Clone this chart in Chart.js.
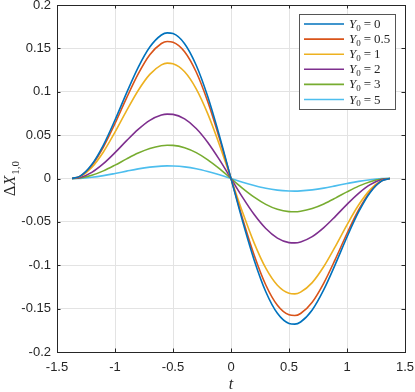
<!DOCTYPE html>
<html>
<head>
<meta charset="utf-8">
<script src="https://cdn.jsdelivr.net/npm/chart.js@4.4.0/dist/chart.umd.min.js"></script>
<style>
    html, body { margin: 0; padding: 0; background: #fff; }
</style>
</head>
<body>
<canvas id="deltaChart" width="415" height="392"></canvas>
<script>
// time samples (t)
const tValues = [-1.37, -1.3, -1.2, -1.1, -1.0, -0.9, -0.8, -0.7, -0.6, -0.55, -0.5, -0.4, -0.3, -0.2, -0.1,
    0, 0.1, 0.2, 0.3, 0.4, 0.5, 0.55, 0.6, 0.7, 0.8, 0.9, 1.0, 1.1, 1.2, 1.3, 1.37];

// Y0 values for the legend
const y0Values = ['0', '0.5', '1', '2', '3', '5'];

// Delta X_{1,0}, one array per Y0
const dxY0_0 = [0, 0.0028, 0.0161, 0.0386, 0.0674, 0.0987, 0.1281, 0.1515, 0.1654, 0.1679, 0.1671, 0.1554, 0.1305, 0.0941, 0.0493,
    0, -0.0493, -0.0941, -0.1305, -0.1554, -0.1671, -0.1679, -0.1654, -0.1515, -0.1281, -0.0987, -0.0674, -0.0386, -0.0161, -0.0028, 0];
const dxY0_05 = [0, 0.0026, 0.0152, 0.0363, 0.0634, 0.0929, 0.1205, 0.1426, 0.1556, 0.1580, 0.1572, 0.1462, 0.1228, 0.0885, 0.0464,
    0, -0.0464, -0.0885, -0.1228, -0.1462, -0.1572, -0.1580, -0.1556, -0.1426, -0.1205, -0.0929, -0.0634, -0.0363, -0.0152, -0.0026, 0];
const dxY0_1 = [0, 0.0022, 0.0128, 0.0306, 0.0534, 0.0782, 0.1015, 0.1200, 0.1310, 0.1330, 0.1323, 0.1231, 0.1034, 0.0745, 0.0390,
    0, -0.0390, -0.0745, -0.1034, -0.1231, -0.1323, -0.1330, -0.1310, -0.1200, -0.1015, -0.0782, -0.0534, -0.0306, -0.0128, -0.0022, 0];
const dxY0_2 = [0, 0.0012, 0.0071, 0.0171, 0.0298, 0.0436, 0.0566, 0.0670, 0.0731, 0.0742, 0.0739, 0.0687, 0.0577, 0.0416, 0.0218,
    0, -0.0218, -0.0416, -0.0577, -0.0687, -0.0739, -0.0742, -0.0731, -0.0670, -0.0566, -0.0436, -0.0298, -0.0171, -0.0071, -0.0012, 0];
const dxY0_3 = [0, 0.0006, 0.0037, 0.0088, 0.0154, 0.0226, 0.0293, 0.0346, 0.0378, 0.0384, 0.0382, 0.0355, 0.0298, 0.0215, 0.0113,
    0, -0.0113, -0.0215, -0.0298, -0.0355, -0.0382, -0.0384, -0.0378, -0.0346, -0.0293, -0.0226, -0.0154, -0.0088, -0.0037, -0.0006, 0];
const dxY0_5 = [0, 0.0002, 0.0014, 0.0033, 0.0058, 0.0085, 0.0111, 0.0131, 0.0143, 0.0145, 0.0144, 0.0134, 0.0113, 0.0081, 0.0043,
    0, -0.0043, -0.0081, -0.0113, -0.0134, -0.0144, -0.0145, -0.0143, -0.0131, -0.0111, -0.0085, -0.0058, -0.0033, -0.0014, -0.0002, 0];

const seriesList = [dxY0_0, dxY0_05, dxY0_1, dxY0_2, dxY0_3, dxY0_5];
const colors = ['#0072BD', '#D95319', '#EDB120', '#7E2F8E', '#77AC30', '#4DBEEE'];

const axisColor = '#262626';
const tickFont = { family: '"Liberation Sans", Arial, sans-serif', size: 13 };
const serif = '"Liberation Serif", "Times New Roman", serif';

const datasets = seriesList.map((vals, i) => ({
    label: 'Y\u2080 = ' + y0Values[i],
    data: tValues.map((t, k) => ({ x: t, y: vals[k] })),
    borderColor: colors[i],
    backgroundColor: colors[i],
    borderWidth: 1.6,
    pointRadius: 0,
    cubicInterpolationMode: 'monotone',
    fill: false
}));

// labels may hang over the plot edges, do not let Chart.js shrink the area for them
function noOverhang(scale) {
    scale.paddingLeft = 0;
    scale.paddingRight = 0;
    scale.paddingTop = 0;
    scale.paddingBottom = 0;
}

// box, inward ticks, axis titles and legend in MATLAB style
const matlabFrame = {
    id: 'matlabFrame',
    afterDraw(chart) {
        const ctx = chart.ctx;
        const area = chart.chartArea;
        const xs = chart.scales.x, ys = chart.scales.y;
        const tickLen = 3.5;

        ctx.save();
        ctx.strokeStyle = axisColor;
        ctx.lineWidth = 1;
        ctx.beginPath();
        xs.ticks.forEach(tk => {
            const px = Math.round(xs.getPixelForValue(tk.value)) + 0.5;
            ctx.moveTo(px, area.bottom); ctx.lineTo(px, area.bottom - tickLen);
            ctx.moveTo(px, area.top); ctx.lineTo(px, area.top + tickLen);
        });
        ys.ticks.forEach(tk => {
            const py = Math.round(ys.getPixelForValue(tk.value)) + 0.5;
            ctx.moveTo(area.left, py); ctx.lineTo(area.left + tickLen, py);
            ctx.moveTo(area.right, py); ctx.lineTo(area.right - tickLen, py);
        });
        ctx.stroke();
        ctx.strokeRect(Math.round(area.left) + 0.5, Math.round(area.top) + 0.5,
            Math.round(area.right - area.left), Math.round(area.bottom - area.top));

        // x title
        ctx.fillStyle = axisColor;
        ctx.font = 'italic 16px ' + serif;
        ctx.textAlign = 'center';
        ctx.textBaseline = 'alphabetic';
        ctx.fillText('t', xs.getPixelForValue(0), 389);

        // y title: ΔX_{1,0}
        ctx.save();
        ctx.translate(15, (area.top + area.bottom) / 2);
        ctx.rotate(-Math.PI / 2);
        ctx.textAlign = 'left';
        ctx.font = '16px ' + serif;
        const wD = ctx.measureText('\u0394').width;
        ctx.font = 'italic 16px ' + serif;
        const wX = ctx.measureText('X').width;
        ctx.font = '11px ' + serif;
        const wS = ctx.measureText('1,0').width;
        let x0 = -(wD + wX + wS + 1) / 2;
        ctx.font = '16px ' + serif;
        ctx.fillText('\u0394', x0, 0);
        ctx.font = 'italic 16px ' + serif;
        ctx.fillText('X', x0 + wD, 0);
        ctx.font = '11px ' + serif;
        ctx.fillText('1,0', x0 + wD + wX + 1, 4);
        ctx.restore();

        // legend
        const lx = 299.5, ly = 14.5, lw = 96, lh = 95;
        ctx.fillStyle = '#fff';
        ctx.fillRect(lx, ly, lw, lh);
        ctx.strokeStyle = '#555';
        ctx.strokeRect(lx, ly, lw, lh);
        chart.data.datasets.forEach((ds, i) => {
            const yy = 24 + i * 15.1;
            ctx.strokeStyle = ds.borderColor;
            ctx.lineWidth = 1.6;
            ctx.beginPath();
            ctx.moveTo(304, yy); ctx.lineTo(344, yy);
            ctx.stroke();
            ctx.fillStyle = axisColor;
            ctx.textAlign = 'left';
            let tx = 349;
            const base = yy + 4;
            ctx.font = 'italic 13px ' + serif;
            ctx.fillText('Y', tx, base);
            tx += ctx.measureText('Y').width;
            ctx.font = '9px ' + serif;
            ctx.fillText('0', tx, base + 2.5);
            tx += ctx.measureText('0').width + 3;
            ctx.font = '13px ' + serif;
            ctx.fillText('=', tx, base);
            tx += ctx.measureText('=').width + 3;
            ctx.fillText(y0Values[i], tx, base);
        });
        ctx.restore();
    }
};

const ctx = document.getElementById('deltaChart').getContext('2d');
new Chart(ctx, {
    type: 'line',
    data: { datasets: datasets },
    options: {
        responsive: false,
        animation: false,
        devicePixelRatio: 1,
        layout: { autoPadding: false, padding: { left: 0, top: 5, right: 10, bottom: 0 } },
        plugins: { legend: { display: false }, tooltip: { enabled: false } },
        scales: {
            x: {
                type: 'linear',
                min: -1.5, max: 1.5,
                afterFit(scale) { scale.height = 40; noOverhang(scale); },
                ticks: {
                    stepSize: 0.5, padding: 8, color: axisColor, font: tickFont,
                    maxRotation: 0,
                    callback: v => String(Number(v.toFixed(2)))
                },
                grid: { color: '#e3e3e3', drawTicks: false },
                border: { display: false }
            },
            y: {
                min: -0.2, max: 0.2,
                afterFit(scale) { scale.width = 57; noOverhang(scale); },
                ticks: {
                    stepSize: 0.05, padding: 6, color: axisColor, font: tickFont,
                    callback: v => String(Number(v.toFixed(2)))
                },
                grid: { color: '#e3e3e3', drawTicks: false },
                border: { display: false }
            }
        }
    },
    plugins: [matlabFrame]
});
</script>
</body>
</html>
